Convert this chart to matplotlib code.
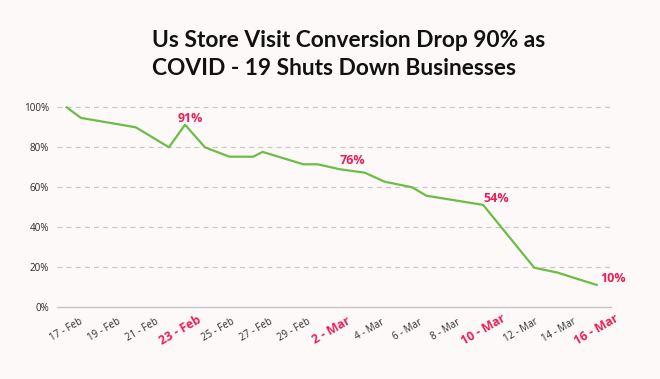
import matplotlib
matplotlib.use("Agg")
import matplotlib.pyplot as plt

# ---- data ----
days = [0, 0.75, 3.65, 5.4, 6.25, 7.3, 8.6, 9.85, 10.35, 12.5, 13.25, 14.45,
        15.75, 16.8, 18.25, 19.0, 22.0, 24.7, 25.95, 26.95, 28.0]
conversion = [100, 94.7, 90, 80, 91.3, 80, 75.3, 75.3, 77.7, 71.5, 71.5, 69,
              67.3, 62.8, 60, 55.8, 51.2, 19.8, 17.3, 14.3, 11.2]

tick_days = [0, 2, 4, 6, 8, 10, 12, 14, 16, 18, 20, 22, 24, 26, 28]
tick_labels = ["17 - Feb", "19 - Feb", "21 - Feb", "23 - Feb", "25 - Feb",
               "27 - Feb", "29 - Feb", "2 - Mar", "4 - Mar", "6 - Mar",
               "8 - Mar", "10 - Mar", "12 - Mar", "14 - Mar", "16 - Mar"]
highlight_labels = ["23 - Feb", "2 - Mar", "10 - Mar", "16 - Mar"]

y_ticks = [0, 20, 40, 60, 80, 100]
y_tick_labels = ["0%", "20%", "40%", "60%", "80%", "100%"]

callout_text = ["91%", "76%", "54%", "10%"]
callout_x = [6.52, 15.1, 22.67, 28.86]
callout_y = [94.2, 73.6, 54.5, 14.5]

title_lines = ["Us Store Visit Conversion Drop 90% as",
               "COVID - 19 Shuts Down Businesses"]

# ---- style ----
BG = "#fdf9f8"
GREEN = "#6bbd45"
RED = "#ea1f56"
DARK = "#2b2b2b"
FONT = ["Open Sans", "DejaVu Sans"]
plt.rcParams["font.family"] = FONT

W, H = 660, 379
fig = plt.figure(figsize=(W / 100, H / 100), dpi=100, facecolor=BG)
ax = fig.add_axes([56.5 / W, 1 - 307.3 / H, (610.5 - 56.5) / W, 200 / H])
ax.set_facecolor(BG)

ax.set_xlim(-0.54, 28.73)
ax.set_ylim(0, 100)

for s in ["top", "right", "left"]:
    ax.spines[s].set_visible(False)
ax.spines["bottom"].set_color("#c4c4c4")
ax.spines["bottom"].set_linewidth(1.0)

for yv in y_ticks[1:]:
    ax.axhline(yv, color="#c8c8c8", lw=0.9, ls=(0, (4, 3.3)), zorder=1,
               clip_on=False)

ax.plot(days, conversion, color=GREEN, lw=1.6, zorder=3, clip_on=False)

for t, x, y in zip(callout_text, callout_x, callout_y):
    ax.text(x, y, t, color=RED, fontsize=9, fontweight="bold",
            ha="center", va="center")

ax.set_yticks(y_ticks)
ax.set_yticklabels(y_tick_labels, fontsize=7.1, color=DARK)
ax.tick_params(axis="y", length=0, pad=5.4)

ax.set_xticks(tick_days)
ax.set_xticklabels(tick_labels, rotation=30, ha="center", va="center",
                   fontsize=7.0, color=DARK)
ax.tick_params(axis="x", length=0, pad=16.5)
for lab in ax.get_xticklabels():
    if lab.get_text() in highlight_labels:
        lab.set_color(RED)
        lab.set_fontweight("bold")
        lab.set_fontsize(8.8)

# ---- title (left-aligned block) ----
TITLE_FONT = ["Lato", "Open Sans", "DejaVu Sans"]
renderer = fig.canvas.get_renderer()
t1 = fig.text(151.7 / W, 1 - 47.3 / H, title_lines[0], fontsize=17,
              family=TITLE_FONT, fontweight="bold", color="#111111",
              ha="left", va="baseline")
w = t1.get_window_extent(renderer).width
fs = 17 * 395 / w
t1.set_fontsize(fs)
fig.text(151.7 / W, 1 - 75 / H, title_lines[1], fontsize=fs,
         family=TITLE_FONT, fontweight="bold", color="#111111",
         ha="left", va="baseline")

fig.savefig("out.png", dpi=100, facecolor=BG)
